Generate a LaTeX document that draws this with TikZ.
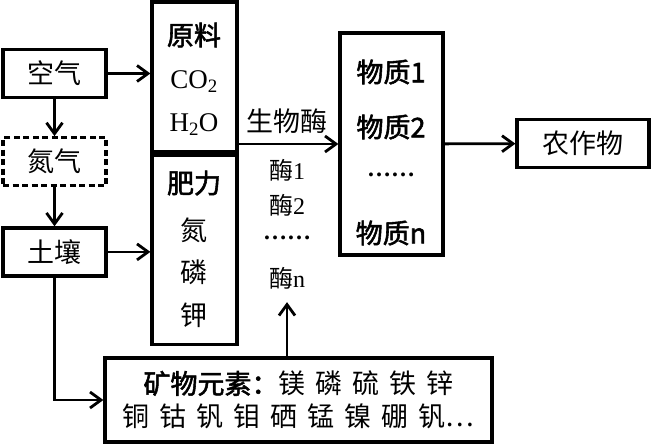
\documentclass[tikz,border=0pt]{standalone}
\usepackage{fontspec}
\setmainfont{Liberation Serif}
\setsansfont{Liberation Sans}
\newfontfamily\cjk{Noto Sans CJK SC}
\newfontfamily\cjkbold[FakeBold=2]{Noto Sans CJK SC}
\newcommand\widegap{\spaceskip=10pt\relax}
\usepackage{tikz}
\usetikzlibrary{positioning, arrows.meta}

\begin{document}
\begin{tikzpicture}[
        x=1pt, y=-1pt,
        node distance=38pt and 38pt,
        every node/.style={font=\fontsize{27}{29}\selectfont\cjk, inner sep=0pt},
        box/.style={draw, line width=3.2pt, minimum height=48pt, minimum width=103pt},
        dashbox/.style={box, dash pattern=on 6pt off 3.5pt},
        colbox/.style={draw, line width=3.2pt, minimum width=85pt},
        heading/.style={font=\fontsize{27}{29}\selectfont\cjkbold},
        enzlabel/.style={font=\fontsize{24}{26}\selectfont\cjk},
        arrow/.style={-{Straight Barb[length=11pt,width=16pt]}, line width=2.8pt}
    ]
    \useasboundingbox (0,0) rectangle (652,446);

    % Left column
    \node[box] (air) at (54.5,73.5) {空气};
    \node[dashbox, below=37pt of air] (nitro) {氮气};
    \node[box, below=39pt of nitro] (soil) {土壤};

    % Raw materials and fertiliser column
    \node[colbox, minimum height=150pt] (raw) at (194.5,77) {};
    \node[colbox, minimum height=189pt, below=0pt of raw] (fert) {};
    \node[heading] (rawtitle) at (194,35) {原料};
    \node[font=\fontsize{27}{29}\selectfont\rmfamily] (co2) at (194,82) {CO\textsubscript{2}};
    \node[font=\fontsize{27}{29}\selectfont\rmfamily] (h2o) at (194,125) {H\textsubscript{2}O};
    \node[heading] (ferttitle) at (194,183) {肥力};
    \node (nitrogen) at (194,230) {氮};
    \node (phos) at (194,272) {磷};
    \node (potash) at (194,315) {钾};

    % Enzymes
    \node (bio) at (287,121) {生物酶};
    \node[enzlabel] (enz1) at (287,170) {酶{\rmfamily 1}};
    \node[enzlabel] (enz2) at (287,205) {酶{\rmfamily 2}};
    \node[font=\fontsize{24}{26}\selectfont\rmfamily\bfseries] (enzdots) at (287,238) {……};
    \node[enzlabel] (enzn) at (287,278) {酶{\rmfamily n}};

    % Substances and crop
    \node[box, minimum height=222pt] (sub) at (391.5,144) {};
    \node[heading] (sub1) at (391,72) {物质1};
    \node[heading] (sub2) at (391,127) {物质2};
    \node[font=\fontsize{24}{26}\selectfont\bfseries] (subdots) at (391,175) {……};
    \node[heading] (subn) at (391,233) {物质n};
    \node[box, minimum width=132pt] (crop) at (583,143.5) {农作物};

    % Mineral elements
    \node[draw, line width=3.2pt, minimum width=387pt, minimum height=84pt, align=center,
          font=\fontsize{27}{33}\selectfont\cjk] (mineral) at (298.5,400)
          {\widegap{\cjkbold 矿物元素：}镁 磷 硫 铁 锌\\\widegap 铜 钴 钒 钼 硒 锰 镍 硼 钒…};

    % Arrows
    \draw[arrow] (air.east) -- (air.east -| raw.west);
    \draw[arrow] (air) -- (nitro);
    \draw[arrow] (nitro) -- (soil);
    \draw[arrow] (soil.east) -- (soil.east -| fert.west);
    \draw[arrow] (soil.south) |- (mineral.west);
    \draw[arrow, shorten >=13pt] (mineral.north -| enzn) -- (enzn.south);
    \draw[arrow] (sub.west -| raw.east) -- (sub.west);
    \draw[arrow] (sub) -- (crop);

\end{tikzpicture}
\end{document}
